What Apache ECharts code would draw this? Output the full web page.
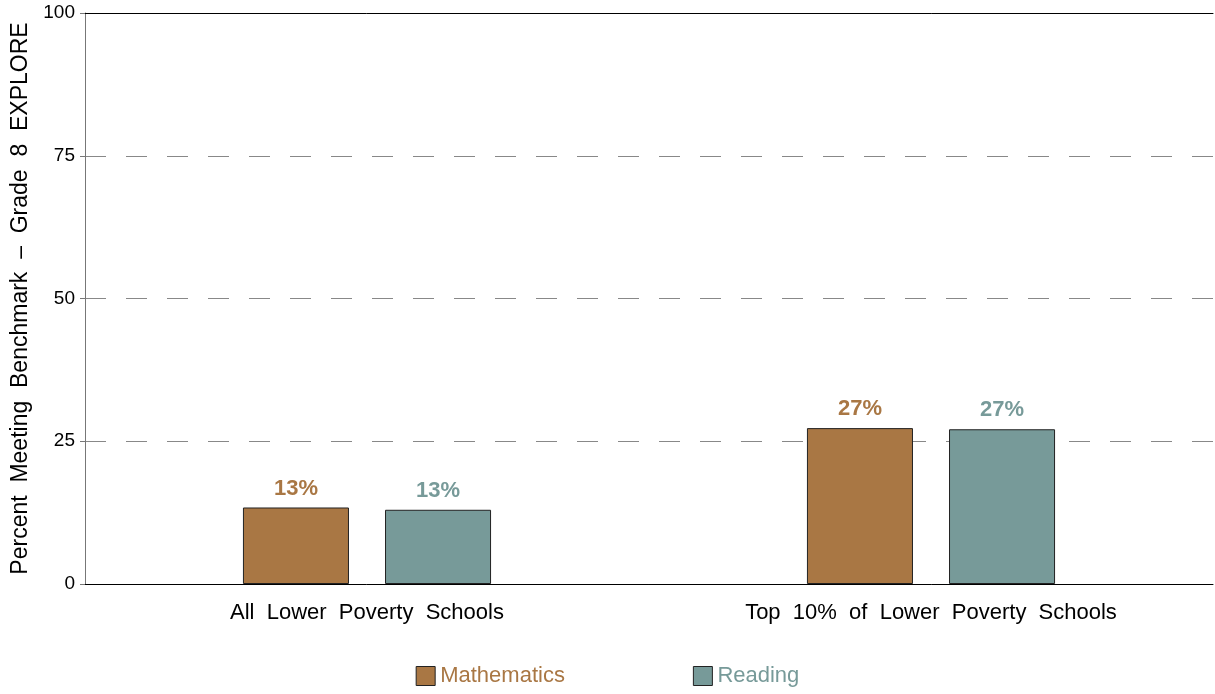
<!DOCTYPE html>
<html>
<head>
<meta charset="utf-8">
<script src="https://cdn.jsdelivr.net/npm/echarts@6/dist/echarts.min.js"></script>
<style>html,body{margin:0;padding:0;background:#fff;}#c{width:1215px;height:694px;}</style>
</head>
<body>
<div id="c"></div>
<script>
const categories = ['All  Lower  Poverty  Schools', 'Top  10%  of  Lower  Poverty  Schools'];
const seriesNames = ['Mathematics', 'Reading'];
const mathValues = [13.4, 27.3];
const readingValues = [13.0, 27.1];
const yTicks = [0, 25, 50, 75, 100];
const colors = ['#A97744', '#779A99'];
const FONT = '"Liberation Sans", Arial, sans-serif';

const chart = echarts.init(document.getElementById('c'));
function mkSeries(name, data, color) {
  return {
    name: name, type: 'bar', data: data, barWidth: '18.8%', barGap: '34%',
    itemStyle: { color: color, borderColor: '#222', borderWidth: 1 },
    label: { show: true, position: 'top', distance: 8, formatter: p => Math.round(p.value) + '%',
      color: color, fontSize: 22, fontFamily: FONT, fontWeight: 'bold' }
  };
}
chart.setOption({
  animation: false,
  textStyle: { fontFamily: FONT },
  grid: { left: 85, right: 2, top: 13, bottom: 110, containLabel: false, outerBoundsMode: 'none' },
  legend: {
    bottom: 2, left: 'center', itemWidth: 19, itemHeight: 19, itemGap: 128, icon: 'rect',
    itemStyle: { borderColor: '#222', borderWidth: 1 },
    textStyle: { fontSize: 22, fontFamily: FONT },
    data: seriesNames.map((n, i) => ({ name: n, textStyle: { color: colors[i] } }))
  },
  xAxis: [{
    type: 'category', data: categories,
    axisLine: { lineStyle: { color: '#000', width: 1 } },
    axisTick: { show: false },
    axisLabel: { fontSize: 22, color: '#000', margin: 18, fontFamily: FONT }
  }, {
    type: 'category', position: 'top', data: categories,
    axisLine: { show: true, lineStyle: { color: '#000', width: 1 } },
    axisTick: { show: false }, axisLabel: { show: false }
  }],
  yAxis: {
    type: 'value', min: yTicks[0], max: yTicks[yTicks.length - 1], interval: 25,
    name: 'Percent  Meeting  Benchmark  –  Grade  8  EXPLORE',
    nameLocation: 'middle', nameGap: 53,
    nameTextStyle: { fontSize: 23, color: '#000', fontFamily: FONT },
    axisLine: { show: true, lineStyle: { color: '#777' } },
    axisTick: { show: true, length: 5, lineStyle: { color: '#777' } },
    axisLabel: { fontSize: 19, color: '#000', margin: 10, fontFamily: FONT },
    splitLine: { show: true, lineStyle: { color: '#888', type: [21, 20], width: 1 } }
  },
  series: [mkSeries(seriesNames[0], mathValues, colors[0]), mkSeries(seriesNames[1], readingValues, colors[1])]
});
</script>
</body>
</html>
